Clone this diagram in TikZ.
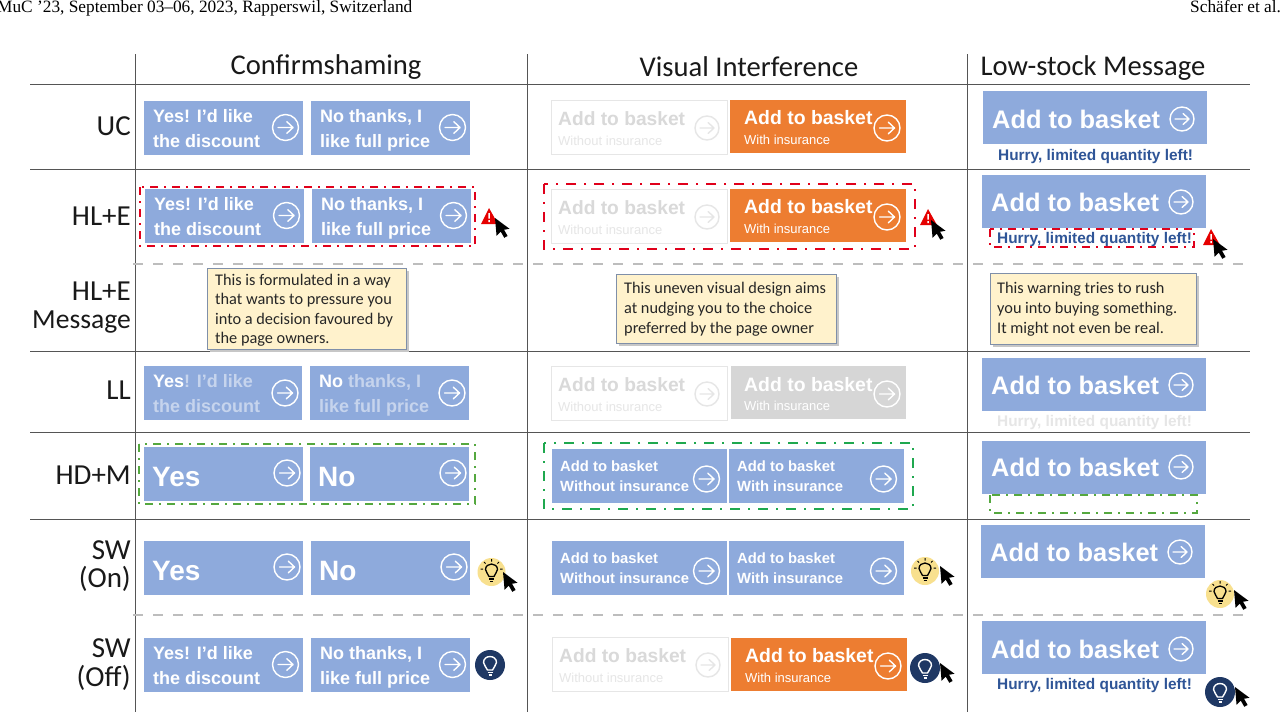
\documentclass[tikz,border=0pt]{standalone}
\usepackage{fontspec}
\setmainfont{Liberation Sans}
\newfontfamily\serifhead{Liberation Serif}
\newfontfamily\labelfont{Carlito}
\definecolor{btnblue}{HTML}{8EAADC}
\definecolor{btnorange}{HTML}{ED7D31}
\definecolor{ghost}{HTML}{D9D9D9}
\definecolor{ghostline}{HTML}{E6E6E6}
\definecolor{llgray}{HTML}{D6D6D6}
\definecolor{rulegray}{HTML}{555555}
\definecolor{dashgray}{HTML}{BDBDBD}
\definecolor{warnred}{HTML}{E0001B}
\definecolor{hintgreen}{HTML}{55A83F}
\definecolor{hintgreenb}{HTML}{1FA84F}
\definecolor{notefill}{HTML}{FFF2CC}
\definecolor{noteline}{HTML}{7F8FA9}
\definecolor{hurry}{HTML}{2F5597}
\definecolor{bulbyellow}{HTML}{F8E08E}
\definecolor{bulbnavy}{HTML}{1F3864}
\tikzset{
  x=1pt,y=-1pt,
  txt/.style={inner sep=0pt,anchor=base west,text depth=0pt},
  rowlabel/.style={inner sep=0pt,anchor=base east,font=\labelfont\fontsize{29}{29}\selectfont,text=black!90},
  colhead/.style={inner sep=0pt,anchor=base,font=\labelfont\fontsize{28.6}{28.6}\selectfont,text=black!90},
  gridline/.style={rulegray,line width=0.9pt},
  softline/.style={dashgray,line width=1.2pt,dash pattern=on 10pt off 10pt},
  reddash/.style={warnred,line width=2.6pt,dash pattern=on 8pt off 6pt on 2pt off 6pt},
  reddashb/.style={warnred,line width=2.6pt,dash pattern=on 10pt off 8pt on 2pt off 8pt},
  greendash/.style={hintgreen,line width=2.2pt,dash pattern=on 8pt off 6pt on 2pt off 6pt},
  greendashb/.style={hintgreenb,line width=2.6pt,dash pattern=on 10pt off 8pt on 2pt off 8pt},
  notebox/.style={draw=noteline,line width=1pt,fill=notefill},
  notetxt/.style={txt,font=\labelfont\fontsize{16.3}{16.3}\selectfont,text=black!85},
  hurrytxt/.style={txt,font=\bfseries\fontsize{15.4}{15.4}\selectfont},
}
\newcommand{\arrowc}[4]{% cx cy r colour
  \draw[#4,line width=1.4pt] (#1,{#2}) circle[radius=#3];
  \draw[#4,line width=1.4pt,line cap=round,line join=round]
    ({#1-0.58*#3},{#2}) -- ({#1+0.58*#3},{#2})
    ({#1+0.1*#3},{#2-0.45*#3}) -- ({#1+0.58*#3},{#2}) -- ({#1+0.1*#3},{#2+0.45*#3});
}
\newcommand{\twoline}[7]{% name x base1 base2 size text1 text2 (white)
  \node[txt,text=white,font=\bfseries\fontsize{#5}{#5}\selectfont] (#1-a) at (#2,#3) {#6};
  \node[txt,text=white,font=\bfseries\fontsize{#5}{#5}\selectfont] (#1-b) at (#2,#4) {#7};
}
\newcommand{\yesdisc}[3]{\begin{scope}[shift={(#2,#3)}]
  \fill[btnblue] (0,1) rectangle (159,55);
  \twoline{#1}{9}{22}{47}{18}{Yes! I’d like}{the discount}
  \arrowc{141.5}{27.5}{13}{white}
\end{scope}}
\newcommand{\nofull}[3]{\begin{scope}[shift={(#2,#3)}]
  \fill[btnblue] (0,1) rectangle (159,55);
  \twoline{#1}{9}{22}{47}{18}{No thanks, I}{like full price}
  \arrowc{141.5}{27.5}{13}{white}
\end{scope}}
\newcommand{\plain}[4]{\begin{scope}[shift={(#2,#3)}]
  \fill[btnblue] (0,0) rectangle (159,54);
  \node[txt,text=white,font=\bfseries\fontsize{28}{28}\selectfont] (#1) at (8,39) {#4};
  \arrowc{143}{26}{13}{white}
\end{scope}}
\newcommand{\grayadd}[3]{\begin{scope}[shift={(#2,#3)}]
  \draw[ghostline,line width=1pt] (0,0) rectangle (176,54);
  \node[txt,text=ghost,font=\bfseries\fontsize{19.2}{19.2}\selectfont] (#1-a) at (7,25) {Add to basket};
  \node[txt,text=ghostline,font=\fontsize{13}{13}\selectfont] (#1-b) at (7,45) {Without insurance};
  \arrowc{156}{28}{12}{ghostline}
\end{scope}}
\newcommand{\orangeadd}[3]{\begin{scope}[shift={(#2,#3)}]
  \fill[btnorange] (0,0) rectangle (176,53);
  \node[txt,text=white,font=\bfseries\fontsize{19.4}{19.4}\selectfont] (#1-a) at (14,24.5) {Add to basket};
  \node[txt,text=white,font=\fontsize{13}{13}\selectfont] (#1-b) at (14,44.5) {With insurance};
  \arrowc{157}{28}{13}{white}
\end{scope}}
\newcommand{\blueadd}[4]{\begin{scope}[shift={(#2,#3)}]
  \fill[btnblue] (0,0) rectangle (175,54);
  \node[txt,text=white,font=\bfseries\fontsize{14.8}{14.8}\selectfont] (#1-a) at (8,22.5) {Add to basket};
  \node[txt,text=white,font=\bfseries\fontsize{14.8}{14.8}\selectfont] (#1-b) at (8,42.5) {#4};
  \arrowc{154.5}{30}{13}{white}
\end{scope}}
\newcommand{\bigadd}[4]{\begin{scope}[shift={(#2,#3)}]% name x y text-shift
  \fill[btnblue] (0,0) rectangle (224,53);
  \node[txt,text=white,font=\bfseries\fontsize{25.4}{25.4}\selectfont] (#1) at (9,{37+(#4)}) {Add to basket};
  \arrowc{199}{28+(#4)}{12}{white}
\end{scope}}
\newcommand{\cursorat}[2]{\begin{scope}[shift={(#1,#2)},rotate=5]
  \fill[black] (0,0) -- (0,18) -- (4.5,14) -- (7.5,20.5) -- (11,19) -- (8,12.5) -- (13.5,12) -- cycle;
\end{scope}}
\newcommand{\warnat}[2]{\begin{scope}[shift={(#1,#2)}]
  \fill[red!90!black,line join=round] (8,0) -- (17,16) -- (0,16) -- cycle;
  \fill[white] (7.4,5) rectangle (8.8,10.5) (7.4,12) rectangle (8.8,14);
\end{scope}}
\newcommand{\bulbon}[2]{\begin{scope}[shift={(#1,#2)}]
  \fill[bulbyellow] (0,0) circle[radius=14];
  \draw[black,line width=1.3pt] (-2.5,4.5) .. controls (-3,1.5) and (-6,0.5) .. (-6,-2.5) .. controls (-6,-6) and (-3,-8) .. (0,-8) .. controls (3,-8) and (6,-6) .. (6,-2.5) .. controls (6,0.5) and (3,1.5) .. (2.5,4.5) -- cycle;
  \draw[black,line width=1.3pt] (-2.5,7) -- (2.5,7) (-1.5,9.3) -- (1.5,9.3);
  \draw[black,line width=1pt] (-11,-3) -- (-8.5,-3) (8.5,-3) -- (11,-3) (0,-13) -- (0,-10.5) (-7.5,-10) -- (-6,-8.5) (7.5,-10) -- (6,-8.5);
\end{scope}}
\newcommand{\bulboff}[2]{\begin{scope}[shift={(#1,#2)}]
  \fill[bulbnavy] (0,0) circle[radius=15];
  \draw[white,line width=1.4pt] (-2.5,5) .. controls (-3,2) and (-6.5,1) .. (-6.5,-2.5) .. controls (-6.5,-6.5) and (-3,-8.5) .. (0,-8.5) .. controls (3,-8.5) and (6.5,-6.5) .. (6.5,-2.5) .. controls (6.5,1) and (3,2) .. (2.5,5) -- cycle;
  \draw[white,line width=1.3pt] (-2.5,7.5) -- (2.5,7.5) (-1.5,10) -- (1.5,10);
\end{scope}}
\newcommand{\notebg}[4]{%
  \fill[black!22] ({#1+3},{#2+3}) rectangle ({#3+3},{#4+3});
  \draw[notebox] (#1,#2) rectangle (#3,#4);
}
\begin{document}
\begin{tikzpicture}
\useasboundingbox (0,0) rectangle (1280,713);
\clip (0,0) rectangle (1280,713);
\fill[white] (0,0) rectangle (1280,713);

% page header
\node[txt,font=\serifhead\fontsize{17.3}{17.3}\selectfont] (runhead) at (-3,12) {MuC ’23, September 03–06, 2023, Rapperswil, Switzerland};
\node[txt,font=\serifhead\fontsize{17.3}{17.3}\selectfont] (runauth) at (1190,12) {Schäfer et al.};

% grid
\draw[gridline] (135,54) -- (135,712);
\draw[gridline] (527,54) -- (527,712);
\draw[gridline] (967,54) -- (967,712);
\foreach \yy in {84.5,169,351.5,432,519}{\draw[gridline] (30,\yy) -- (1250,\yy);}
\draw[softline] (133,264) -- (1250,264);
\draw[softline] (133,615) -- (1250,615);

% column heads
\node[colhead] (h1) at (326,74) {Confirmshaming};
\node[colhead] (h2) at (749,76) {Visual Interference};
\node[colhead] (h3) at (1093,75) {Low-stock Message};

% row labels
\node[rowlabel] (r1) at (131,135) {UC};
\node[rowlabel] (r2) at (131,225) {HL+E};
\node[rowlabel] (r3a) at (131,300) {HL+E};
\node[rowlabel,font=\labelfont\fontsize{27.6}{27.6}\selectfont] (r3b) at (131,328.5) {Message};
\node[rowlabel] (r4) at (131,399.5) {LL};
\node[rowlabel] (r5) at (131,484) {HD+M};
\node[rowlabel] (r6a) at (131,559) {SW};
\node[rowlabel] (r6b) at (131,587) {(On)};
\node[rowlabel] (r7a) at (131,657) {SW};
\node[rowlabel] (r7b) at (131,686) {(Off)};

% ---- UC
\yesdisc{uc1a}{144}{100}
\nofull{uc1b}{311}{100}
\grayadd{uc2a}{551}{100}
\orangeadd{uc2b}{730}{100}
\bigadd{uc3}{983}{91}{0}
\node[hurrytxt,text=hurry] (uc3h) at (998,160) {Hurry, limited quantity left!};

% ---- HL+E
\yesdisc{hl1a}{145}{188}
\nofull{hl1b}{312}{188}
\draw[reddash] (140,187) rectangle (475,246);
\warnat{481}{208}
\cursorat{495}{218}
\grayadd{hl2a}{551}{189}
\orangeadd{hl2b}{730}{189}
\draw[reddashb] (544,184) rectangle (915,249);
\warnat{920}{209}
\cursorat{931}{220}
\bigadd{hl3}{982}{175}{-1}
\node[hurrytxt,text=hurry] (hl3h) at (997,243) {Hurry, limited quantity left!};
\draw[reddash] (990,229) rectangle (1194,247);
\warnat{1203}{229}
\cursorat{1213}{239}

% ---- messages
\notebg{207}{268}{406}{349}
\node[notetxt] (m1a) at (215,285) {This is formulated in a way};
\node[notetxt] (m1b) at (215,304) {that wants to pressure you};
\node[notetxt] (m1c) at (215,324) {into a decision favoured by};
\node[notetxt] (m1d) at (215,343) {the page owners.};
\notebg{616}{274}{836}{343}
\node[notetxt] (m2a) at (624,293) {This uneven visual design aims};
\node[notetxt] (m2b) at (624,313) {at nudging you to the choice};
\node[notetxt] (m2c) at (624,333) {preferred by the page owner};
\notebg{990}{273}{1196}{344}
\node[notetxt] (m3a) at (997,293) {This warning tries to rush};
\node[notetxt] (m3b) at (997,313) {you into buying something.};
\node[notetxt] (m3c) at (997,333) {It might not even be real.};

% ---- LL
\fill[btnblue] (144,366) rectangle (302,420);
\node[txt,text=white,font=\bfseries\fontsize{18}{18}\selectfont] (ll1a) at (153,387) {Yes\textcolor{white!50!btnblue}{! I’d like}};
\node[txt,text=white!50!btnblue,font=\bfseries\fontsize{18}{18}\selectfont] (ll1b) at (153,412) {the discount};
\arrowc{285}{393}{13}{white}
\fill[btnblue] (310,366) rectangle (469,420);
\node[txt,text=white,font=\bfseries\fontsize{18}{18}\selectfont] (ll1c) at (319,387) {No \textcolor{white!50!btnblue}{thanks, I}};
\node[txt,text=white!50!btnblue,font=\bfseries\fontsize{18}{18}\selectfont] (ll1d) at (319,412) {like full price};
\arrowc{452}{393}{13}{white}
\grayadd{ll2a}{551}{366}
\fill[llgray] (731,366) rectangle (906,419);
\node[txt,text=white,font=\bfseries\fontsize{19.4}{19.4}\selectfont] (ll2b) at (744,391) {Add to basket};
\node[txt,text=white,font=\fontsize{13}{13}\selectfont] (ll2c) at (744,410) {With insurance};
\arrowc{887}{394}{13}{white}
\bigadd{ll3}{982}{358}{-1}
\node[hurrytxt,text=ghostline] (ll3h) at (997,426) {Hurry, limited quantity left!};

% ---- HD+M
\plain{hd1a}{144}{447}{Yes}
\plain{hd1b}{310}{447}{No}
\draw[greendash] (139,444) rectangle (475,504);
\blueadd{hd2a}{552}{449}{Without insurance}
\blueadd{hd2b}{729}{449}{With insurance}
\draw[greendashb] (544,443) rectangle (913,509);
\bigadd{hd3}{982}{441}{-2}
\draw[greendash] (990,495) rectangle (1197,513);

% ---- SW on
\plain{on1a}{144}{541}{Yes}
\plain{on1b}{311}{541}{No}
\bulbon{491.5}{572}
\cursorat{503}{572}
\blueadd{on2a}{552}{541}{Without insurance}
\blueadd{on2b}{729}{541}{With insurance}
\bulbon{925}{571}
\cursorat{940}{566}
\bigadd{on3}{981}{525}{-1}
\bulbon{1220}{594}
\cursorat{1234}{590}

% ---- SW off
\yesdisc{of1a}{144}{637}
\nofull{of1b}{311}{637}
\bulboff{490}{665}
\grayadd{of2a}{552}{637}
\orangeadd{of2b}{731}{638}
\bulboff{925}{668}
\cursorat{940}{663}
\bigadd{of3}{982}{621}{0}
\node[hurrytxt,text=hurry] (of3h) at (997,689) {Hurry, limited quantity left!};
\bulboff{1220}{692}
\cursorat{1235}{687}
\end{tikzpicture}
\end{document}
